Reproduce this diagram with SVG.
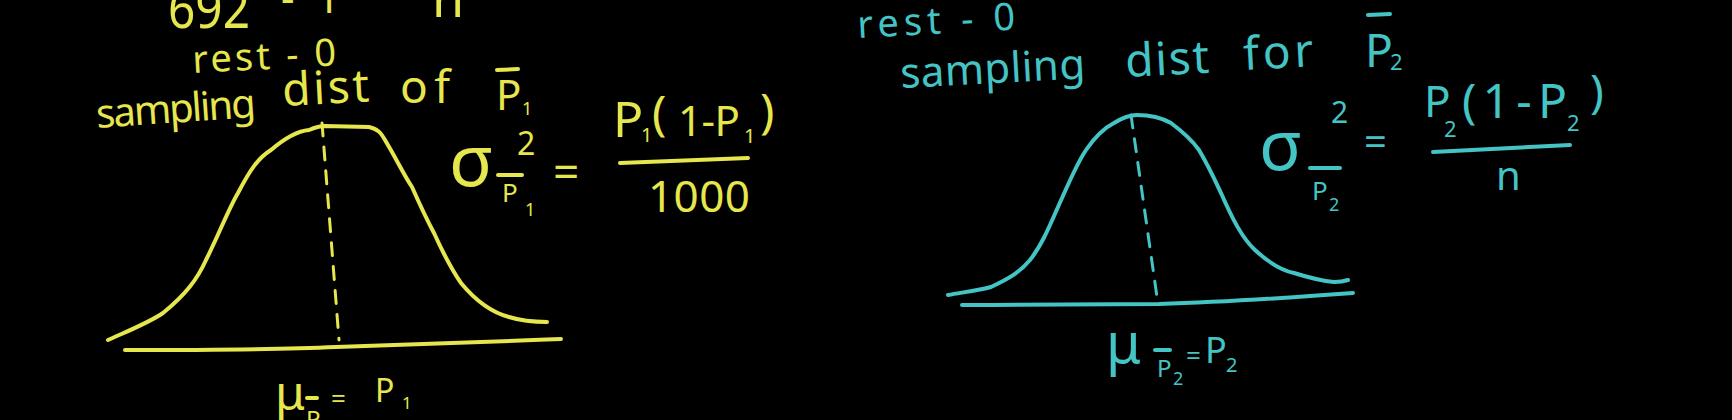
<svg xmlns="http://www.w3.org/2000/svg" width="1732" height="420" viewBox="0 0 1732 420">
<style>
  text { font-family: "Noto Sans", "DejaVu Sans", sans-serif; }
  .y { fill: #e6e64e; }
  .c { fill: #44c4c4; }
  .ys { stroke: #e6e64e; fill: none; stroke-width: 4; stroke-linecap: round; stroke-linejoin: round; }
  .cs { stroke: #44c4c4; fill: none; stroke-width: 4; stroke-linecap: round; stroke-linejoin: round; }
  .dash { stroke-width: 3; stroke-dasharray: 13 11; }
</style>
<rect x="0" y="0" width="1732" height="420" fill="#000"/>

<g id="left-panel">
  <g id="left-header">
    <text class="y" x="168" y="28" font-size="54" textLength="82" lengthAdjust="spacingAndGlyphs">692</text>
    <text class="y" x="281" y="13" font-size="42" textLength="59" lengthAdjust="spacing">- 1</text>
    <text class="y" x="432" y="17" font-size="52">n</text>
    <text class="y" x="193" y="73" font-size="38" textLength="144" lengthAdjust="spacing" transform="rotate(-3 193 73)">rest - 0</text>
    <text class="y" x="97" y="128" font-size="40" textLength="160" lengthAdjust="spacing" transform="rotate(-4 97 128)">sampling</text>
    <text class="y" x="283" y="106" font-size="46" textLength="87" lengthAdjust="spacing" transform="rotate(-3 283 106)">dist</text>
    <text class="y" x="400" y="103" font-size="46" textLength="50" lengthAdjust="spacing">of</text>
    <line class="ys" x1="497" y1="70" x2="518" y2="69"/>
    <text class="y" x="496" y="110" font-size="42">P</text>
    <text class="y" x="522" y="115" font-size="18">1</text>
  </g>
  <g id="left-curve">
    <path class="ys" d="M108,340 C135,328 150,322 163,313 C185,295 197,280 206,260 C220,232 228,210 238,193 C250,170 258,158 271,150 C285,138 298,131 309,130 C316,127 322,126 325,126 L369,127 C378,129 381,133 385,140 C397,160 404,175 412,187 C420,205 427,220 434,233 C444,255 452,270 461,283 C475,300 490,312 509,317 C525,322 537,322 547,322"/>
    <path class="ys" d="M125,350 C190,350 270,350 336,347 C420,344 490,342 561,339"/>
    <path class="ys dash" d="M322,123 L339,340"/>
  </g>
  <g id="left-variance">
    <text class="y" x="449" y="186" font-size="72">σ</text>
    <text class="y" x="517" y="155" font-size="32">2</text>
    <line class="ys" x1="498" y1="175" x2="522" y2="175"/>
    <text class="y" x="502" y="202" font-size="26">P</text>
    <text class="y" x="525" y="216" font-size="18">1</text>
    <text class="y" x="553" y="188" font-size="46">=</text>
    <text class="y" x="613" y="137" font-size="50">P</text>
    <text class="y" x="641" y="142" font-size="20">1</text>
    <text class="y" x="652" y="130" font-size="48">(</text>
    <text class="y" x="678" y="136" font-size="42" textLength="62" lengthAdjust="spacing">1-P</text>
    <text class="y" x="744" y="143" font-size="20">1</text>
    <text class="y" x="760" y="128" font-size="48">)</text>
    <line class="ys" x1="620" y1="163" x2="748" y2="158"/>
    <text class="y" x="648" y="212" font-size="44" textLength="102" lengthAdjust="spacing">1000</text>
  </g>
  <g id="left-mean">
    <text class="y" x="275" y="410" font-size="48">μ</text>
    <line class="ys" x1="307" y1="398" x2="317" y2="398"/>
    <text class="y" x="306" y="428" font-size="24">P</text>
    <text class="y" x="331" y="408" font-size="26">=</text>
    <text class="y" x="375" y="402" font-size="32">P</text>
    <text class="y" x="402" y="409" font-size="17">1</text>
  </g>
</g>

<g id="right-panel">
  <g id="right-header">
    <text class="c" x="858" y="38" font-size="38" textLength="158" lengthAdjust="spacing" transform="rotate(-3 858 38)">rest - 0</text>
    <text class="c" x="901" y="88" font-size="42" textLength="185" lengthAdjust="spacing" transform="rotate(-3 901 88)">sampling</text>
    <text class="c" x="1126" y="77" font-size="46" textLength="84" lengthAdjust="spacing" transform="rotate(-3 1126 77)">dist</text>
    <text class="c" x="1244" y="70" font-size="46" textLength="70" lengthAdjust="spacing" transform="rotate(-3 1244 70)">for</text>
    <line class="cs" x1="1368" y1="15" x2="1390" y2="14"/>
    <text class="c" x="1365" y="67" font-size="46">P</text>
    <text class="c" x="1390" y="70" font-size="22">2</text>
  </g>
  <g id="right-curve">
    <path class="cs" d="M948,295 C965,292 980,290 991,287 C1010,278 1020,272 1030,260 C1042,245 1050,225 1058,207 C1068,185 1076,165 1086,150 C1095,137 1104,128 1114,123 C1122,118 1130,115 1137,115 C1150,115 1162,118 1171,123 C1183,132 1192,140 1199,150 C1208,165 1214,178 1221,193 C1232,218 1242,238 1255,250 C1268,262 1280,270 1294,273 C1310,278 1322,281 1334,282 C1340,282 1345,281 1348,280"/>
    <path class="cs" d="M962,305 C1030,305 1100,304 1159,304 C1230,302 1300,297 1353,293"/>
    <path class="cs dash" d="M1131,115 L1158,304" stroke-dasharray="16 10"/>
  </g>
  <g id="right-variance">
    <text class="c" x="1259" y="170" font-size="70">σ</text>
    <text class="c" x="1331" y="123" font-size="30">2</text>
    <line class="cs" x1="1310" y1="168" x2="1340" y2="168"/>
    <text class="c" x="1312" y="200" font-size="26">P</text>
    <text class="c" x="1329" y="211" font-size="18">2</text>
    <text class="c" x="1364" y="156" font-size="40">=</text>
    <text class="c" x="1424" y="117" font-size="44">P</text>
    <text class="c" x="1444" y="137" font-size="22">2</text>
    <text class="c" x="1462" y="118" font-size="48" textLength="105" lengthAdjust="spacing">(1-P</text>
    <text class="c" x="1567" y="131" font-size="22">2</text>
    <text class="c" x="1590" y="108" font-size="46">)</text>
    <line class="cs" x1="1433" y1="152" x2="1570" y2="145"/>
    <text class="c" x="1496" y="190" font-size="40">n</text>
  </g>
  <g id="right-mean">
    <text class="c" x="1106" y="363" font-size="56">μ</text>
    <line class="cs" x1="1155" y1="350" x2="1170" y2="350"/>
    <text class="c" x="1157" y="377" font-size="24">P</text>
    <text class="c" x="1173" y="385" font-size="18">2</text>
    <text class="c" x="1186" y="365" font-size="26">=</text>
    <text class="c" x="1205" y="363" font-size="36">P</text>
    <text class="c" x="1226" y="372" font-size="20">2</text>
  </g>
</g>
</svg>
